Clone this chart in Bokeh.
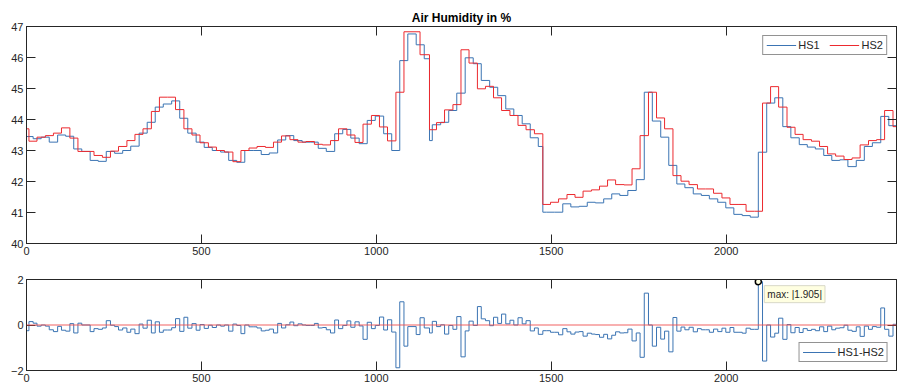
import numpy as np
from bokeh.plotting import figure
from bokeh.layouts import column
from bokeh.models import Range1d, LinearAxis, FixedTicker, Legend, LegendItem, Label, Span
from bokeh.embed import file_html
from bokeh.resources import INLINE

# ---------------- data ----------------
N_SAMPLES = 2487

hs2_x = [0, 7, 30, 54, 77, 100, 124, 147, 170, 193, 217, 240, 263, 287, 310, 333, 357, 380, 403,
         426, 450, 473, 496, 520, 543, 566, 590, 613, 636, 659, 683, 706, 729, 753, 776, 799, 823,
         846, 869, 892, 916, 939, 962, 986, 1009, 1032, 1056, 1079, 1102, 1125, 1152, 1172, 1195,
         1219, 1242, 1265, 1289, 1312, 1335, 1358, 1382, 1405, 1428, 1452, 1476, 1498, 1521, 1545,
         1568, 1591, 1615, 1638, 1661, 1684, 1708, 1731, 1754, 1778, 1801, 1824, 1848, 1871, 1894,
         1918, 1941, 1964, 1988, 2011, 2034, 2057, 2081, 2104, 2127, 2150, 2174, 2197, 2220, 2244,
         2267, 2290, 2313, 2337, 2360, 2383, 2407, 2430, 2453, 2477]
hs2_y = [43.70, 43.30, 43.43, 43.48, 43.56, 43.73, 43.40, 42.97, 42.97, 42.84, 42.78, 42.98, 43.13,
         43.32, 43.52, 43.70, 44.26, 44.72, 44.72, 44.32, 43.70, 43.50, 43.25, 43.11, 43.00, 42.95,
         42.64, 43.00, 43.08, 43.13, 43.10, 43.27, 43.47, 43.35, 43.27, 43.29, 43.20, 43.18, 43.32,
         43.70, 43.50, 43.26, 43.85, 44.13, 43.76, 43.31, 44.88, 46.83, 46.83, 46.09, 43.67, 43.90,
         44.31, 44.48, 46.25, 45.82, 44.99, 45.07, 44.70, 44.29, 44.13, 43.81, 43.67, 43.54, 41.26,
         41.33, 41.44, 41.58, 41.49, 41.69, 41.73, 41.85, 42.05, 41.90, 41.89, 42.41, 43.48, 44.88,
         44.05, 43.70, 42.19, 42.01, 41.90, 41.76, 41.76, 41.62, 41.47, 41.26, 41.26, 41.04, 41.04,
         44.53, 45.06, 44.40, 43.75, 43.52, 43.35, 43.30, 43.13, 42.89, 42.82, 42.71, 42.76, 43.18,
         43.32, 43.35, 44.29, 43.77]

hs1_x = [0, 19, 42, 65, 89, 112, 135, 158, 182, 205, 228, 252, 275, 298, 322, 345, 368, 391, 415,
         438, 461, 485, 508, 531, 555, 578, 601, 624, 648, 671, 694, 718, 741, 764, 788, 811, 834,
         857, 881, 904, 927, 951, 974, 997, 1021, 1044, 1067, 1090, 1114, 1137, 1152, 1160, 1184,
         1207, 1230, 1254, 1277, 1300, 1324, 1347, 1370, 1393, 1417, 1440, 1463, 1476, 1486, 1510,
         1533, 1556, 1580, 1603, 1626, 1650, 1673, 1696, 1719, 1743, 1766, 1789, 1813, 1836, 1859,
         1882, 1906, 1929, 1952, 1976, 1999, 2022, 2046, 2069, 2092, 2116, 2139, 2162, 2185, 2209,
         2232, 2255, 2279, 2302, 2325, 2348, 2372, 2395, 2418, 2442, 2465]
hs1_y = [43.45, 43.38, 43.43, 43.27, 43.50, 43.46, 43.05, 42.97, 42.68, 42.65, 42.97, 42.91, 43.00,
         43.14, 43.56, 43.91, 44.40, 44.50, 44.60, 44.04, 43.56, 43.27, 43.10, 43.00, 42.95, 42.68,
         42.62, 43.00, 43.00, 42.87, 42.92, 43.34, 43.48, 43.32, 43.27, 43.27, 43.07, 42.97, 43.54,
         43.68, 43.40, 43.22, 43.97, 44.11, 43.54, 43.00, 45.90, 46.76, 46.41, 45.96, 43.32, 43.83,
         43.91, 44.29, 44.85, 45.99, 45.80, 45.26, 45.04, 44.77, 44.34, 44.13, 43.86, 43.41, 43.13,
         41.01, 41.01, 41.01, 41.28, 41.18, 41.20, 41.33, 41.31, 41.44, 41.60, 41.55, 41.71, 42.06,
         44.88, 43.95, 43.43, 42.52, 41.92, 41.80, 41.60, 41.55, 41.44, 41.33, 41.15, 40.94, 40.90,
         40.85, 42.945, 44.53, 44.70, 43.77, 43.41, 43.19, 43.11, 43.05, 42.84, 42.68, 42.70, 42.48,
         42.68, 43.13, 43.25, 44.10, 43.80]

x_ticks = [0, 500, 1000, 1500, 2000]
top_y_ticks = [40, 41, 42, 43, 44, 45, 46, 47]
diff_y_ticks = [-2, 0, 2]

# ---------------- derived ----------------
def step_eval(bx, by, xs):
    idx = np.searchsorted(np.asarray(bx), xs, side="right") - 1
    return np.asarray(by)[idx]

diff_x = np.union1d(hs1_x, hs2_x)
diff_y = step_eval(hs1_x, hs1_y, diff_x) - step_eval(hs2_x, hs2_y, diff_x)
imax = int(np.argmax(np.abs(diff_y)))

def ext(xs, ys):
    return list(xs) + [N_SAMPLES], list(ys) + [ys[-1]]

BLUE = "#3b74b3"
RED = "#ec2a2f"
AX = "#262626"
FONT = "Liberation Sans"

def style(p, yticks):
    p.xgrid.visible = False
    p.ygrid.visible = False
    p.outline_line_color = AX
    p.outline_line_width = 1
    top_ax = LinearAxis()
    right_ax = LinearAxis()
    p.add_layout(top_ax, "above")
    p.add_layout(right_ax, "right")
    for ax in p.xaxis:
        ax.ticker = FixedTicker(ticks=x_ticks)
    for ax in p.yaxis:
        ax.ticker = FixedTicker(ticks=yticks)
    for ax in p.axis:
        ax.axis_line_color = AX
        ax.major_tick_line_color = AX
        ax.major_tick_in = 9
        ax.major_tick_out = 0
        ax.minor_tick_line_color = None
        ax.major_label_text_font = FONT
        ax.major_label_text_font_size = "11px"
        ax.major_label_text_color = AX
        ax.major_label_standoff = 3
    for ax in (top_ax, right_ax):
        ax.major_label_text_color = None
        ax.major_label_text_font_size = "1px"
        ax.major_label_standoff = 0

# ---------------- top figure ----------------
p1 = figure(width=897, height=262, output_backend="svg", toolbar_location=None,
            x_range=Range1d(0, N_SAMPLES), y_range=Range1d(40, 47),
            min_border_left=26, min_border_right=1, min_border_top=26, min_border_bottom=19,
            title="Air Humidity in %")
p1.title.align = "center"
p1.title.text_font = FONT
p1.title.text_font_size = "12px"
p1.title.text_font_style = "bold"
p1.title.text_color = "black"
p1.title.standoff = 3

x1, y1 = ext(hs1_x, hs1_y)
x2, y2 = ext(hs2_x, hs2_y)
r1 = p1.step(x1, y1, mode="after", line_color=BLUE, line_width=1)
r2 = p1.step(x2, y2, mode="after", line_color=RED, line_width=1)
style(p1, top_y_ticks)

leg1 = Legend(items=[LegendItem(label="HS1", renderers=[r1]), LegendItem(label="HS2", renderers=[r2])],
              location="top_right", orientation="horizontal", margin=9,
              glyph_width=30, glyph_height=10, label_standoff=2, spacing=10, padding=3,
              label_text_font=FONT, label_text_font_size="11px", label_text_color=AX,
              border_line_color=AX, border_line_width=1, background_fill_alpha=1)
p1.add_layout(leg1)

# ---------------- bottom figure ----------------
p2 = figure(width=897, height=126, output_backend="svg", toolbar_location=None,
            x_range=p1.x_range, y_range=Range1d(-2, 2),
            min_border_left=26, min_border_right=1, min_border_top=17, min_border_bottom=18)
dx, dy = ext(diff_x, diff_y)
r3 = p2.step(dx, dy, mode="after", line_color=BLUE, line_width=1)
p2.add_layout(Span(location=0, dimension="width", line_color="#f05050", line_width=1,
                   line_alpha=0.9, level="overlay"))
style(p2, diff_y_ticks)

leg2 = Legend(items=[LegendItem(label="HS1-HS2", renderers=[r3])],
              location="bottom_right", orientation="horizontal", margin=8,
              glyph_width=33, glyph_height=10, label_standoff=2, padding=3,
              label_text_font=FONT, label_text_font_size="11px", label_text_color=AX,
              border_line_color=AX, border_line_width=1, background_fill_alpha=1)
p2.add_layout(leg2)

mx, my = float(diff_x[imax]), float(diff_y[imax])
p2.scatter([mx], [my], marker="circle", size=6, line_color="black", line_width=1.5,
           fill_color="#ffffe1")
p2.add_layout(Label(x=mx, y=my, x_offset=6, y_offset=-4, text=f"max: |{abs(my):.3f}|",
                    text_baseline="top", text_font=FONT, text_font_size="10px", text_color=AX,
                    background_fill_color="#ffffe1", border_line_color="#d8d8c8",
                    padding=3))

layout = column(p1, p2, spacing=0)
open("out.html", "w").write(file_html(layout, INLINE))
